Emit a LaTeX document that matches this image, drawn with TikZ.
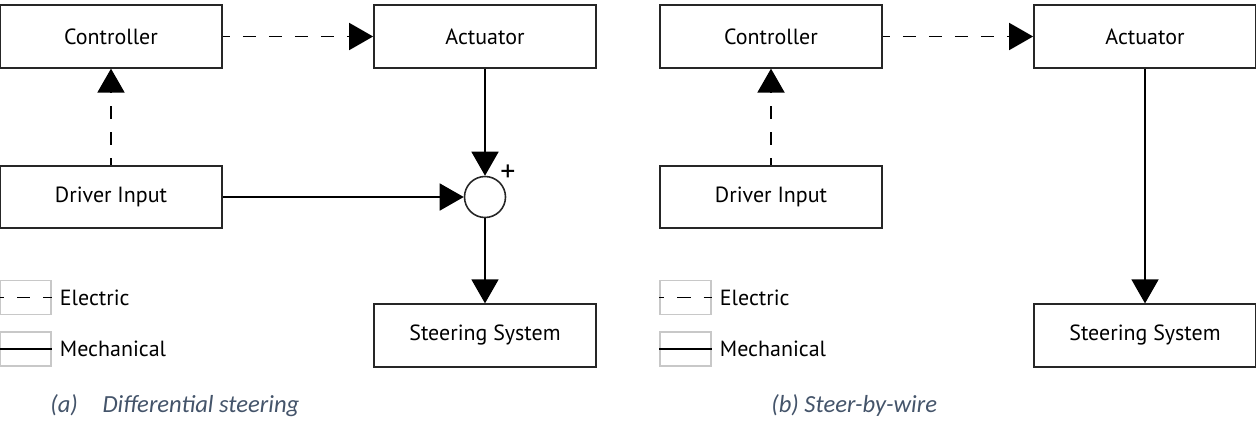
\documentclass[tikz,border=0pt]{standalone}
\usepackage{fontspec}
\setmainfont{PT Sans}
\newfontfamily\capfont{Carlito}
\usetikzlibrary{arrows.meta,positioning}
\definecolor{capcol}{HTML}{44546A}
\definecolor{legcol}{HTML}{C8C8C8}

\begin{document}
\begin{tikzpicture}[
  font=\fontsize{12.5}{15}\selectfont,
  block/.style={draw=black!85, line width=1pt, minimum width=4.44cm, minimum height=1.25cm, inner sep=0pt},
  sumnode/.style={draw=black!85, line width=0.9pt, circle, minimum size=0.82cm, inner sep=0pt},
  arr/.style={-{Triangle[length=0.48cm,width=0.54cm]}},
  elec/.style={line width=1.1pt, dash pattern=on 7.4pt off 7.4pt, dash phase=3.4pt},
  mech/.style={line width=0.9pt},
  legbox/.style={draw=legcol, line width=0.6pt, minimum width=1.02cm, minimum height=0.68cm, inner sep=0pt},
  legtext/.style={inner sep=0pt},
  captext/.style={font=\capfont\itshape\fontsize{14}{17}\selectfont, text=capcol, anchor=base west, inner sep=0pt},
]
\useasboundingbox (0,0) rectangle (25.12,8.42);

% (a) differential steering
\begin{scope}
  \node[block] (ctrlA) at (2.22,7.69) {Controller};
  \node[block] (actA) at (9.70,7.69) {Actuator};
  \node[block] (drvA) at (2.22,4.48) {Driver Input};
  \node[sumnode, label={[inner sep=0pt, font=\fontsize{17}{17}\selectfont]45:+}] (sumA) at (9.70,4.48) {};
  \node[block] (steerA) at (9.70,1.71) {Steering System};
  \draw[elec,arr] (ctrlA) -- (actA);
  \draw[elec,arr] (drvA) -- (ctrlA);
  \draw[mech,arr] (actA) -- (sumA);
  \draw[mech,arr] (drvA) -- (sumA);
  \draw[mech,arr] (sumA) -- (steerA);
  % legend
  \node[legbox] (elboxA) at (0.51,2.47) {};
  \draw[elec, dash phase=4.55pt] (elboxA.west) -- (elboxA.east);
  \node[legtext, right=0.16cm of elboxA] (eltxtA) {Electric};
  \node[legbox] (meboxA) at (0.51,1.44) {};
  \draw[mech] (meboxA.west) -- (meboxA.east);
  \node[legtext, right=0.16cm of meboxA] (metxtA) {Mechanical};
  \node[captext] (capA) at (1.0,0.18) {(a)\hspace{14pt}Differential steering};
\end{scope}

% (b) steer-by-wire
\begin{scope}[xshift=13.2cm]
  \node[block] (ctrlB) at (2.22,7.69) {Controller};
  \node[block] (actB) at (9.70,7.69) {Actuator};
  \node[block] (drvB) at (2.22,4.48) {Driver Input};
  \node[block] (steerB) at (9.70,1.71) {Steering System};
  \draw[elec,arr] (ctrlB) -- (actB);
  \draw[elec,arr] (drvB) -- (ctrlB);
  \draw[mech,arr] (actB) -- (steerB);
  % legend
  \node[legbox] (elboxB) at (0.51,2.47) {};
  \draw[elec, dash phase=4.55pt] (elboxB.west) -- (elboxB.east);
  \node[legtext, right=0.16cm of elboxB] (eltxtB) {Electric};
  \node[legbox] (meboxB) at (0.51,1.44) {};
  \draw[mech] (meboxB.west) -- (meboxB.east);
  \node[legtext, right=0.16cm of meboxB] (metxtB) {Mechanical};
  \node[captext] (capB) at (2.22,0.18) {(b) Steer-by-wire};
\end{scope}
\end{tikzpicture}
\end{document}
